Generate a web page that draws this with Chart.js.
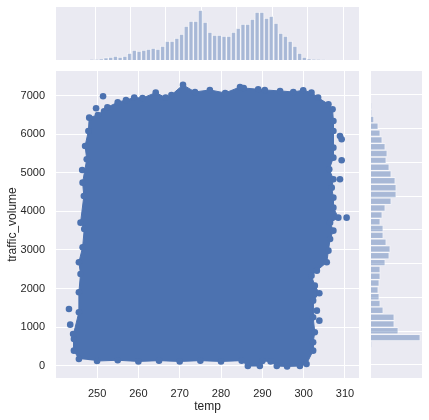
<!DOCTYPE html>
<html>
<head>
<meta charset="utf-8">
<script src="https://cdn.jsdelivr.net/npm/chart.js@4/dist/chart.umd.min.js"></script>
<style>
  html, body { margin: 0; padding: 0; background: #ffffff; }
  #wrap { position: relative; width: 429px; height: 420px; }
  canvas { position: absolute; left: 0; top: 0; }
</style>
</head>
<body>
<div id="wrap">
  <canvas id="principal" width="429" height="420"></canvas>
  <canvas id="histTemp" width="429" height="420"></canvas>
  <canvas id="histVol" width="429" height="420"></canvas>
</div>
<script>
// Datos

// Marcas de los ejes
const tempTicks = [250, 260, 270, 280, 290, 300, 310];
const volTicks = [0, 1000, 2000, 3000, 4000, 5000, 6000, 7000];

// Histograma superior: centros de los 50 intervalos de temp y su altura
const tempBins = [244.06, 245.39, 246.73, 248.06, 249.39, 250.73, 252.06, 253.39, 254.73, 256.06,
  257.40, 258.73, 260.06, 261.40, 262.73, 264.06, 265.40, 266.73, 268.07, 269.40,
  270.73, 272.07, 273.40, 274.73, 276.07, 277.40, 278.74, 280.07, 281.40, 282.74,
  284.07, 285.41, 286.74, 288.07, 289.41, 290.74, 292.07, 293.41, 294.74, 296.08,
  297.41, 298.74, 300.08, 301.41, 302.75, 304.08, 305.41, 306.75, 308.08, 309.41];
const tempCounts = [3, 8, 20, 70, 90, 120, 90, 120, 210, 300,
  270, 300, 330, 360, 330, 420, 570, 570, 660, 780,
  1020, 1170, 1170, 1500, 1140, 840, 750, 750, 720, 720,
  840, 960, 1080, 1080, 1230, 1440, 1440, 1260, 1320, 1110,
  810, 720, 570, 420, 210, 90, 30, 10, 5, 2];

// Histograma derecho: centros de intervalos de traffic_volume y su altura
const volBins = [106, 308, 510, 712, 914, 1116, 1318, 1520, 1722, 1924,
  2126, 2328, 2530, 2732, 2934, 3136, 3338, 3540, 3742, 3944,
  4146, 4348, 4550, 4752, 4954, 5156, 5358, 5560, 5762, 5964,
  6166, 6368, 6570, 6772, 6974, 7176];
const volCounts = [10, 4930, 2730, 2330, 2330, 1230, 930, 830, 730, 830,
  930, 930, 1430, 1830, 1930, 1530, 1230, 1230, 930, 1130,
  1430, 2030, 2530, 2530, 2430, 2030, 1830, 1530, 1630, 1430,
  1130, 930, 730, 300, 20, 5];

// Contorno de la nube de puntos (se rellena por dentro)
const blobTemp = [245.6, 244.4, 244.4, 244.2, 245.6, 245.6, 246.0, 245.6, 246.5, 246.9,
  246.0, 246.8, 246.5, 247.5, 247.1, 247.9, 248.1, 250.2, 252.5, 255.0,
  257.0, 259.0, 261.0, 264.2, 266.6, 268.0, 270.8, 273.7, 277.3, 281.0,
  284.6, 285.5, 289.0, 290.6, 294.3, 297.5, 299.9, 301.9, 303.5, 306.0,
  307.0, 307.2, 307.2, 307.2, 307.2, 306.2, 307.2, 306.8, 307.2, 307.2,
  308.4, 306.4, 307.2, 306.4, 306.0, 305.6, 303.2, 301.9, 302.7, 303.8,
  302.3, 302.3, 302.7, 302.3, 302.3, 300.7, 299.1, 296.0, 293.5, 292.0,
  290.0, 289.4, 286.5, 285.0, 280.0, 275.0, 270.0, 265.0, 260.0, 255.0, 250.0];
const blobVolume = [174, 389, 692, 822, 1385, 1903, 2378, 2681, 3070, 3545,
  3708, 4400, 4745, 5352, 5697, 6086, 6431, 6500, 6700, 6830,
  6890, 6950, 6940, 7079, 6950, 7019, 7280, 7097, 7149, 7071,
  7226, 7200, 7167, 7149, 7123, 7097, 7141, 7079, 6950, 6778,
  6649, 6345, 6086, 5653, 5393, 5093, 4833, 4616, 4356, 4097,
  3838, 3708, 3500, 3285, 2982, 2681, 2463, 2334, 2074, 1877,
  1685, 1255, 866, 607, 389, 44, -10, -20, -10, 110,
  120, -10, -10, 130, 110, 130, 110, 130, 110, 140, 120];

// Puntos sueltos fuera de la nube
const outlierTemp = [251.45, 249.76, 251.7, 246.4, 243.2, 243.5, 308.8, 309.2, 309.2, 308.8, 310.4, 303.2, 303.8];
const outlierVolume = [6985, 6674, 6597, 5075, 1470, 1063, 5956, 5870, 5326, 4833, 3838, 1426, 1167];

const AZUL = '#4c72b0';
const FONDO = '#eaeaf2';
const TEXTO = '#262626';
const BARRA = 'rgba(76, 114, 176, 0.42)';
const BORDE_BARRA = 'rgba(255, 255, 255, 0.45)';

Chart.defaults.font.family = "'Liberation Sans', Arial, sans-serif";
Chart.defaults.color = TEXTO;

// Pinta el fondo gris azulado del area del grafico
const fondoPlugin = {
    id: 'fondo',
    beforeDraw(chart) {
        const a = chart.chartArea;
        const ctx = chart.ctx;
        ctx.save();
        ctx.fillStyle = FONDO;
        ctx.fillRect(a.left, a.top, a.right - a.left, a.bottom - a.top);
        ctx.restore();
    }
};

const rangoTemp = { min: 240.06, max: 313.4 };
const rangoVol = { min: -320, max: 7640 };

// Fuerza las marcas exactas de cada eje
const marcasTemp = (s) => { s.ticks = tempTicks.map(v => ({ value: v })); };
const marcasVol = (s) => { s.ticks = volTicks.map(v => ({ value: v })); };

const comunes = {
    responsive: false,
    animation: false,
    events: [],
    plugins: { legend: { display: false }, tooltip: { enabled: false } }
};

// 1. Diagrama de dispersion principal
new Chart(document.getElementById('principal'), {
    type: 'line',
    data: {
        datasets: [
            {
                data: blobTemp.map((t, i) => ({ x: t, y: blobVolume[i] })),
                fill: 'shape',
                backgroundColor: AZUL,
                borderColor: AZUL,
                borderWidth: 1,
                tension: 0,
                pointRadius: 3.3,
                pointBackgroundColor: AZUL,
                pointBorderWidth: 0
            },
            {
                data: outlierTemp.map((t, i) => ({ x: t, y: outlierVolume[i] })),
                showLine: false,
                pointRadius: 3.3,
                pointBackgroundColor: AZUL,
                pointBorderWidth: 0
            }
        ]
    },
    options: {
        ...comunes,
        layout: { padding: { top: 71, right: 70, left: 0, bottom: 0 } },
        scales: {
            x: {
                type: 'linear',
                min: rangoTemp.min,
                max: rangoTemp.max,
                afterBuildTicks: marcasTemp,
                afterFit(s) { s.height = 42; },
                border: { display: false },
                grid: { color: '#ffffff', lineWidth: 1, drawTicks: false },
                ticks: { padding: 9, font: { size: 11 }, color: TEXTO, callback: (v) => String(v) },
                title: { display: true, text: 'temp', font: { size: 12 }, color: TEXTO, padding: { top: 0, bottom: 6 } }
            },
            y: {
                type: 'linear',
                min: rangoVol.min,
                max: rangoVol.max,
                afterBuildTicks: marcasVol,
                afterFit(s) { s.width = 56; },
                border: { display: false },
                grid: { color: '#ffffff', lineWidth: 1, drawTicks: false },
                ticks: { padding: 11, font: { size: 11 }, color: TEXTO, callback: (v) => String(v) },
                title: { display: true, text: 'traffic_volume', font: { size: 12 }, color: TEXTO, padding: { top: 5, bottom: 0 } }
            }
        }
    },
    plugins: [fondoPlugin]
});

// 2. Histograma marginal de temp (arriba)
new Chart(document.getElementById('histTemp'), {
    type: 'bar',
    data: {
        datasets: [{
            data: tempBins.map((b, i) => ({ x: b, y: tempCounts[i] })),
            backgroundColor: BARRA,
            borderColor: BORDE_BARRA,
            borderWidth: 1,
            barPercentage: 1,
            categoryPercentage: 1
        }]
    },
    options: {
        ...comunes,
        layout: { padding: { top: 7, right: 70, left: 56, bottom: 360 } },
        scales: {
            x: {
                type: 'linear',
                min: rangoTemp.min,
                max: rangoTemp.max,
                afterBuildTicks: marcasTemp,
                afterFit(s) { s.height = 0; },
                border: { display: false },
                grid: { color: '#ffffff', lineWidth: 1, drawTicks: false },
                ticks: { display: false }
            },
            y: { display: false, min: 0, max: 1590 }
        }
    },
    plugins: [fondoPlugin]
});

// 3. Histograma marginal de traffic_volume (derecha)
new Chart(document.getElementById('histVol'), {
    type: 'bar',
    data: {
        datasets: [{
            data: volBins.map((b, i) => ({ x: volCounts[i], y: b })),
            backgroundColor: BARRA,
            borderColor: BORDE_BARRA,
            borderWidth: 1,
            barPercentage: 1,
            categoryPercentage: 1
        }]
    },
    options: {
        ...comunes,
        indexAxis: 'y',
        layout: { padding: { top: 71, right: 7, left: 371, bottom: 42 } },
        scales: {
            y: {
                type: 'linear',
                min: rangoVol.min,
                max: rangoVol.max,
                afterBuildTicks: marcasVol,
                afterFit(s) { s.width = 0; },
                border: { display: false },
                grid: { color: '#ffffff', lineWidth: 1, drawTicks: false },
                ticks: { display: false }
            },
            x: { display: false, min: 0, max: 5100 }
        }
    },
    plugins: [fondoPlugin]
});
</script>
</body>
</html>
